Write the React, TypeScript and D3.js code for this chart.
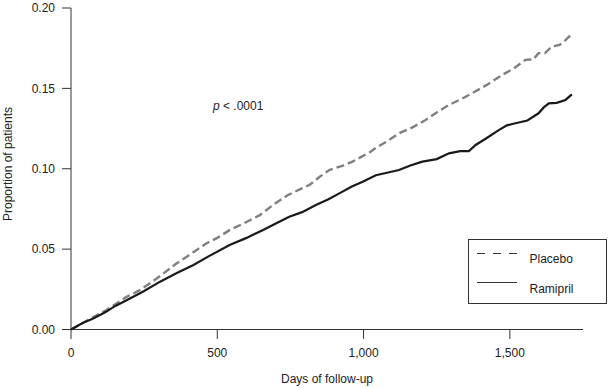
import React from "react";
import * as d3 from "d3";

const placeboDays = [0, 40, 76, 120, 150, 190, 230, 269, 310, 360, 410, 462, 500, 542, 590, 644, 690, 741, 780, 815, 850, 883, 930, 962, 1019, 1042, 1080, 1121, 1170, 1212, 1250, 1292, 1330, 1371, 1420, 1473, 1510, 1553, 1580, 1598, 1620, 1644, 1670, 1690, 1706];
const placeboValues = [0, 0.004, 0.0078, 0.012, 0.0155, 0.0203, 0.024, 0.0286, 0.034, 0.041, 0.047, 0.0535, 0.057, 0.0618, 0.066, 0.071, 0.0774, 0.0836, 0.087, 0.0899, 0.095, 0.0992, 0.102, 0.1044, 0.11, 0.113, 0.117, 0.122, 0.126, 0.1303, 0.135, 0.1397, 0.143, 0.147, 0.152, 0.1583, 0.162, 0.1677, 0.168, 0.1719, 0.172, 0.176, 0.177, 0.18, 0.1828];

const ramiprilDays = [0, 40, 76, 120, 150, 190, 250, 303, 360, 417, 470, 542, 600, 655, 700, 746, 790, 837, 880, 917, 960, 997, 1042, 1080, 1121, 1160, 1201, 1250, 1292, 1330, 1360, 1383, 1420, 1462, 1490, 1519, 1560, 1598, 1615, 1633, 1660, 1690, 1712];
const ramiprilValues = [0, 0.004, 0.0068, 0.011, 0.0145, 0.0182, 0.024, 0.0296, 0.035, 0.04, 0.0455, 0.0525, 0.057, 0.0618, 0.066, 0.0701, 0.073, 0.0774, 0.081, 0.0847, 0.089, 0.0919, 0.096, 0.0975, 0.0992, 0.102, 0.1044, 0.106, 0.1096, 0.111, 0.111, 0.1148, 0.119, 0.124, 0.127, 0.1283, 0.13, 0.1345, 0.138, 0.1407, 0.141, 0.1428, 0.1463];

const xTicks = [0, 500, 1000, 1500];
const xTickLabels = ["0", "500", "1,000", "1,500"];
const yTicks = [0, 0.05, 0.1, 0.15, 0.2];
const yTickLabels = ["0.00", "0.05", "0.10", "0.15", "0.20"];

const W = 612;
const H = 388;
const FONT = "'Liberation Sans', Arial, Helvetica, sans-serif";

export default function App() {
  const x = d3.scaleLinear().domain([0, 1750]).range([71, 583]);
  const y = d3.scaleLinear().domain([0, 0.2]).range([329.5, 8]);
  const line = d3
    .line<[number, number]>()
    .x((d) => x(d[0]))
    .y((d) => y(d[1]));
  const placebo: [number, number][] = placeboDays.map((d, i) => [d, placeboValues[i]]);
  const ramipril: [number, number][] = ramiprilDays.map((d, i) => [d, ramiprilValues[i]]);
  const axisColor = "#333";

  return (
    <svg
      width={W}
      height={H}
      style={{ position: "absolute", left: 0, top: 0, background: "#fff" }}
      fontFamily={FONT}
    >
      {/* axes */}
      <line x1={x(0)} x2={x(0)} y1={y(0.2)} y2={y(0)} stroke={axisColor} strokeWidth={1} />
      <line x1={x(0)} x2={x(1750)} y1={y(0)} y2={y(0)} stroke={axisColor} strokeWidth={1} />
      {yTicks.map((t, i) => (
        <g key={"y" + i}>
          <line x1={62} x2={x(0)} y1={y(t)} y2={y(t)} stroke={axisColor} strokeWidth={1} />
          <text x={55} y={y(t)} dy="0.35em" textAnchor="end" fontSize={12} fill="#222">
            {yTickLabels[i]}
          </text>
        </g>
      ))}
      {xTicks.map((t, i) => (
        <g key={"x" + i}>
          <line x1={x(t)} x2={x(t)} y1={y(0)} y2={339} stroke={axisColor} strokeWidth={1} />
          <text x={x(t)} y={357} textAnchor="middle" fontSize={12} fill="#222">
            {xTickLabels[i]}
          </text>
        </g>
      ))}
      <text x={(x(0) + x(1750)) / 2} y={383} textAnchor="middle" fontSize={12} fill="#222">
        Days of follow-up
      </text>
      <text
        transform={`translate(12, 164) rotate(-90)`}
        textAnchor="middle"
        fontSize={12}
        fill="#222"
      >
        Proportion of patients
      </text>

      {/* curves */}
      <path d={line(placebo) || ""} fill="none" stroke="#808080" strokeWidth={2.4} strokeDasharray="8,4" />
      <path d={line(ramipril) || ""} fill="none" stroke="#1a1a1a" strokeWidth={2.2} />

      {/* p value */}
      <text x={213} y={109.5} fontSize={12} fill="#222">
        <tspan fontStyle="italic">p</tspan> &lt; .0001
      </text>

      {/* legend */}
      <rect x={468.5} y={239.5} width={138} height={64} fill="#fff" stroke={axisColor} strokeWidth={1} />
      <line x1={477} x2={517} y1={253.5} y2={253.5} stroke="#333" strokeWidth={1.2} strokeDasharray="8,8" />
      <text x={529.5} y={262.7} fontSize={12} fill="#222">Placebo</text>
      <line x1={477} x2={517} y1={282.5} y2={282.5} stroke="#333" strokeWidth={1.2} />
      <text x={529.5} y={292.7} fontSize={12} fill="#222">Ramipril</text>
    </svg>
  );
}
